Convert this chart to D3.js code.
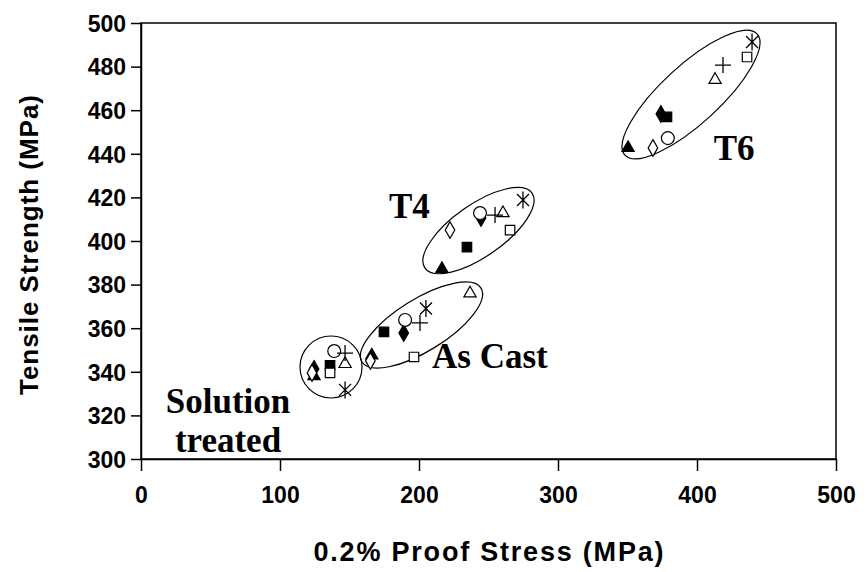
<!DOCTYPE html>
<html><head><meta charset="utf-8">
<script src="https://cdn.jsdelivr.net/npm/d3@7"></script>
<style>body{margin:0;background:#fff}svg{display:block}</style>
</head><body>
<script>
// ---- data ----
const treatments = ["Solution treated", "As Cast", "T4", "T6"];
const seriesMarkers = ["filledDiamond","filledSquare","filledTriangle","openDiamond","openSquare","openTriangle","openCircle","plus","asterisk"];
// 0.2% proof stress (X, MPa) and tensile strength (Y, MPa) per series, for each treatment
const solutionX = [124.5, 136, 124.5, 123, 136, 146.8, 139, 146.8, 146.8];
const solutionY = [341.3, 343, 338, 339.5, 339.5, 343.6, 349.5, 348.6, 331.7];
const asCastX   = [189, 174.8, 166, 165, 196.4, 236.7, 190, 200.7, 205];
const asCastY   = [357.8, 358.3, 347.5, 345, 346.8, 376, 363.8, 362.4, 369];
const t4X       = [244.6, 234.5, 216.5, 222.3, 265.5, 260.4, 243.9, 254.7, 274.8];
const t4Y       = [410.6, 397.2, 387.2, 405, 405, 412.8, 412.8, 411.9, 418.8];
const t6X       = [374, 378.4, 350.4, 368.3, 436, 413, 379, 418.7, 439.6];
const t6Y       = [458.3, 456.9, 442.7, 442.7, 484.4, 473.9, 447.2, 480.7, 491.3];
const xTicks = [0, 100, 200, 300, 400, 500];
const yTicks = [300, 320, 340, 360, 380, 400, 420, 440, 460, 480, 500];
// group outlines: ends of major axis in data units
const groupEnds = [
  [[114.4, 342.2], [159, 342.2]],
  [[159, 344.5], [244.6, 378.4]],
  [[204.3, 387.6], [281.3, 422]],
  [[348.2, 439.4], [443.2, 495]]
];
const groupLabels = ["Solution|treated", "As Cast", "T4", "T6"];

// ---- layout ----
const W = 866, H = 572;
const L = 141, R = 836, T = 23, B = 459;
const svg = d3.select("body").append("svg").attr("width", W).attr("height", H);
const x = d3.scaleLinear().domain([0, 500]).range([L, R]);
const y = d3.scaleLinear().domain([300, 500]).range([B, T]);

const tickFont = "'Liberation Sans', Arial, sans-serif";

// frame
svg.append("rect").attr("x", L).attr("y", T).attr("width", R - L).attr("height", B - T)
  .attr("fill", "none").attr("stroke", "#000").attr("stroke-width", 1.5);

const xAxis = svg.append("g").attr("transform", `translate(0,${B})`)
  .call(d3.axisBottom(x).tickValues(xTicks).tickSize(12).tickSizeOuter(0).tickPadding(16));
const yAxis = svg.append("g").attr("transform", `translate(${L},0)`)
  .call(d3.axisLeft(y).tickValues(yTicks).tickSize(10).tickSizeOuter(0).tickPadding(5));
[xAxis, yAxis].forEach(g => {
  g.select(".domain").attr("stroke", "#000").attr("stroke-width", 1.5);
  g.selectAll(".tick line").attr("stroke", "#000").attr("stroke-width", 1.5);
  g.selectAll("text").attr("fill", "#000").style("font-family", tickFont)
    .style("font-weight", "bold").style("font-size", "23px");
});
yAxis.selectAll("text").attr("dy", "0.36em");

svg.append("text").attr("x", (L + R) / 2).attr("y", 561).attr("text-anchor", "middle")
  .attr("textLength", 350).attr("lengthAdjust", "spacing")
  .style("font-family", tickFont).style("font-weight", "bold").style("font-size", "27px")
  .text("0.2% Proof Stress (MPa)");
svg.append("text").attr("transform", `translate(38,${(T + B) / 2 + 4}) rotate(-90)`).attr("text-anchor", "middle")
  .attr("textLength", 300).attr("lengthAdjust", "spacing")
  .style("font-family", tickFont).style("font-weight", "bold").style("font-size", "26px")
  .text("Tensile Strength (MPa)");

// group ellipses
const widths = [31, 26, 26, 29];
groupEnds.forEach((e, i) => {
  const p1 = [x(e[0][0]), y(e[0][1])], p2 = [x(e[1][0]), y(e[1][1])];
  const cx = (p1[0] + p2[0]) / 2, cy = (p1[1] + p2[1]) / 2;
  const a = Math.hypot(p2[0] - p1[0], p2[1] - p1[1]) / 2;
  const ang = Math.atan2(p2[1] - p1[1], p2[0] - p1[0]) * 180 / Math.PI;
  svg.append("ellipse").attr("cx", cx).attr("cy", cy).attr("rx", a).attr("ry", widths[i])
    .attr("transform", `rotate(${ang},${cx},${cy})`)
    .attr("fill", "none").attr("stroke", "#000").attr("stroke-width", 1.2);
});

// labels (positions in data units)
const serif = "'Liberation Serif', 'Times New Roman', serif";
const labelPos = [[62.6, 321.1], [209.4, 341.7], [178.4, 410.6], [412, 437.2]];
const labelAnchor = ["middle", "start", "start", "start"];
groupLabels.forEach((t, i) => {
  const lines = t.split("|");
  const tx = svg.append("text").attr("x", x(labelPos[i][0])).attr("y", y(labelPos[i][1]))
    .attr("text-anchor", labelAnchor[i]).style("font-family", serif).style("font-weight", "bold")
    .style("font-size", "35px").attr("fill", "#000");
  lines.forEach((ln, k) => tx.append("tspan").attr("x", x(labelPos[i][0])).attr("dy", k ? "1.1em" : 0).text(ln));
});

// points
const groupsX = [solutionX, asCastX, t4X, t6X];
const groupsY = [solutionY, asCastY, t4Y, t6Y];
function drawMarker(g, kind, px, py) {
  if (kind === "plus") {
    g.append("path").attr("d", `M${px - 8},${py}H${px + 8}M${px},${py - 8}V${py + 8}`)
      .attr("stroke", "#000").attr("stroke-width", 1.3).attr("fill", "none");
    return;
  }
  if (kind === "asterisk") {
    g.append("path").attr("d", `M${px - 6},${py - 6}L${px + 6},${py + 6}M${px + 6},${py - 6}L${px - 6},${py + 6}M${px},${py - 8.5}V${py + 8.5}`)
      .attr("stroke", "#000").attr("stroke-width", 1.3).attr("fill", "none");
    return;
  }
  const filled = kind.startsWith("filled");
  let type, size;
  if (kind.endsWith("Diamond")) { type = d3.symbolDiamond; size = 80; }
  else if (kind.endsWith("Square")) { type = d3.symbolSquare; size = 90; }
  else if (kind.endsWith("Triangle")) { type = d3.symbolTriangle; size = 65; }
  else { type = d3.symbolCircle; size = 130; }
  g.append("path").attr("d", d3.symbol().type(type).size(size)())
    .attr("transform", `translate(${px},${py})`)
    .attr("fill", filled ? "#000" : "#fff").attr("stroke", "#000").attr("stroke-width", 1.2);
}
const pts = svg.append("g");
groupsX.forEach((gx, gi) => {
  gx.forEach((v, si) => drawMarker(pts, seriesMarkers[si], x(v), y(groupsY[gi][si])));
});
</script>
</body></html>
